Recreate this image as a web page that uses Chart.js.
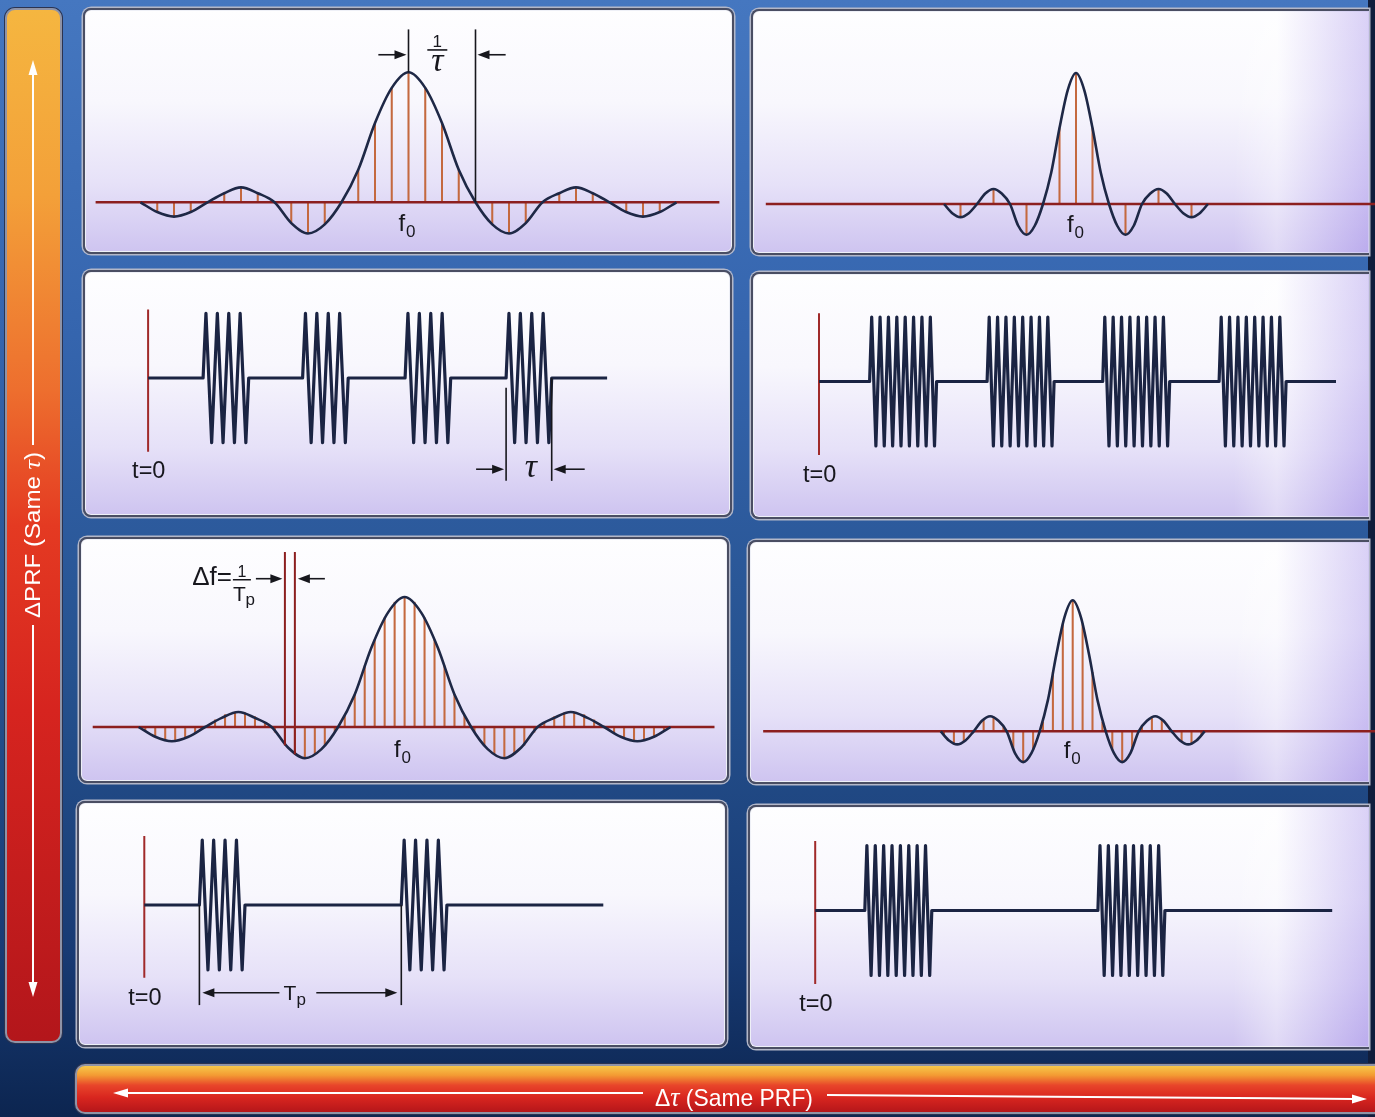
<!DOCTYPE html>
<html>
<head>
<meta charset="utf-8">
<title>Pulse trains and their line spectra</title>
<script src="https://cdn.jsdelivr.net/npm/chart.js@4.4.1/dist/chart.umd.min.js"></script>
<style>
  html, body { margin: 0; padding: 0; }
  body {
    width: 1375px; height: 1117px; position: relative; overflow: hidden;
    background: linear-gradient(180deg, #4577c0 0%, #3565ae 30%, #26528f 60%, #183b74 85%, #0c2550 100%);
    font-family: 'Liberation Sans', Arial, sans-serif;
  }
  .panel {
    position: absolute; box-sizing: border-box; z-index: 1;
    border: 2px solid #4a4e63; border-radius: 8px;
    box-shadow: 0 0 0 1.5px #b3b7c8, inset 0 0 0 1px #eef0f7;
    background: linear-gradient(180deg, #fefeff 0%, #f8f7fd 38%, #e6e1f8 72%, #cec4f0 100%);
  }
  .panel.right { border-right: none; border-radius: 8px 0 0 8px; }
  .panel.right::after {
    content: ''; position: absolute; left: 0; top: 0; right: 0; bottom: 0;
    background: linear-gradient(90deg, rgba(0,0,0,0) 0%, rgba(0,0,0,0) 78%, rgba(255,255,255,0.35) 85%, rgba(150,125,230,0.35) 100%);
  }
  .edge { position: absolute; left: 1368px; top: 0; width: 7px; height: 1117px; background: #101d3c; z-index: 0; }
  .bar-left {
    position: absolute; left: 5px; top: 8px; width: 57px; height: 1035px; box-sizing: border-box; z-index: 1;
    border: 2px solid #8f93a6; border-radius: 10px; box-shadow: 0 0 0 1px #2b3350;
    background: linear-gradient(180deg, #f5b640 0%, #f3a039 18%, #ed6e2e 37%, #e43a22 50%, #d6241f 68%, #b3161b 100%);
  }
  .bar-bottom {
    position: absolute; left: 75px; top: 1064px; width: 1310px; height: 50px; box-sizing: border-box; z-index: 1;
    border: 2px solid #8f93a6; border-radius: 10px 0 0 10px; box-shadow: 0 0 0 1px #2b3350;
    background: linear-gradient(180deg, #f7c84a 0%, #f39b33 20%, #e8452a 42%, #d9261f 68%, #b5161a 100%);
  }
  canvas { position: absolute; z-index: 2; }
  svg.deco { position: absolute; left: 0; top: 0; z-index: 3; pointer-events: none; }
</style>
</head>
<body>
<div class="edge"></div>
<div class="bar-left"></div>
<div class="bar-bottom"></div>
<div class="panel" style="left:83px;top:8px;width:651px;height:246px"></div>
<div class="panel" style="left:83px;top:270px;width:649px;height:247px"></div>
<div class="panel right" style="left:751px;top:9px;width:618px;height:246px"></div>
<div class="panel right" style="left:751px;top:272px;width:618px;height:247px"></div>
<div class="panel" style="left:79px;top:537px;width:650px;height:246px"></div>
<div class="panel" style="left:77px;top:801px;width:650px;height:246px"></div>
<div class="panel right" style="left:748px;top:540px;width:621px;height:244px"></div>
<div class="panel right" style="left:748px;top:805px;width:621px;height:244px"></div>

<svg class="deco" width="1375" height="1117">
  <g stroke="#fff" stroke-width="2" fill="#fff">
    <line x1="33" y1="72" x2="33" y2="445"/>
    <line x1="33" y1="625" x2="33" y2="985"/>
    <polygon points="33,60 28.5,75 37.5,75" stroke="none"/>
    <polygon points="33,997 28.5,982 37.5,982" stroke="none"/>
    <line x1="125" y1="1093" x2="643" y2="1093"/>
    <line x1="827" y1="1095" x2="1355" y2="1099"/>
    <polygon points="113,1093 128,1088.5 128,1097.5" stroke="none"/>
    <polygon points="1367,1099 1352,1094.5 1352,1103.5" stroke="none"/>
  </g>
  <text transform="translate(40,535) rotate(-90)" text-anchor="middle" fill="#fff" font-family="Liberation Sans" font-size="22" textLength="166" lengthAdjust="spacingAndGlyphs">ΔPRF (Same <tspan font-family="Liberation Serif" font-style="italic" font-size="24">τ</tspan>)</text>
  <text x="734" y="1106" text-anchor="middle" fill="#fff" font-family="Liberation Sans" font-size="24" textLength="158" lengthAdjust="spacingAndGlyphs">Δ<tspan font-family="Liberation Serif" font-style="italic" font-size="27">τ</tspan> (Same PRF)</text>
</svg>

<script>
// ---- values ----
// spectrum of the narrow pulse, frequency in units of 1/tau (top-left: lines at every point)
const freqA = [-4, -3.75, -3.5, -3.25, -3, -2.75, -2.5, -2.25, -2, -1.75, -1.5, -1.25, -1, -0.75, -0.5, -0.25, 0,
  0.25, 0.5, 0.75, 1, 1.25, 1.5, 1.75, 2, 2.25, 2.5, 2.75, 3, 3.25, 3.5, 3.75, 4];
const specA = [0, -0.075, -0.11, -0.075, 0, 0.07, 0.115, 0.07, 0, -0.16, -0.24, -0.17, 0, 0.25, 0.61, 0.88, 1,
  0.88, 0.61, 0.25, 0, -0.17, -0.24, -0.16, 0, 0.07, 0.115, 0.07, 0, -0.075, -0.11, -0.075, 0];

// spectrum of the wide pulse (right column)
const freqB = [-2, -1.875, -1.75, -1.625, -1.5, -1.375, -1.25, -1.125, -1, -0.875, -0.75, -0.625, -0.5, -0.375, -0.25, -0.125, 0,
  0.125, 0.25, 0.375, 0.5, 0.625, 0.75, 0.875, 1, 1.125, 1.25, 1.375, 1.5, 1.625, 1.75, 1.875, 2];
const specB = [0, -0.07, -0.1, -0.07, 0, 0.08, 0.115, 0.08, 0, -0.166, -0.235, -0.166, 0, 0.24, 0.58, 0.87, 1,
  0.87, 0.58, 0.24, 0, -0.166, -0.235, -0.166, 0, 0.08, 0.115, 0.08, 0, -0.07, -0.1, -0.07, 0];

// spectral lines, top-right
const linesB = [-1.75, -1.5, -1.25, -1, -0.75, -0.5, -0.25, 0, 0.25, 0.5, 0.75, 1, 1.25, 1.5, 1.75];
const linesBHeight = [-0.1, 0, 0.115, 0, -0.235, 0, 0.58, 1, 0.58, 0, -0.235, 0, 0.115, 0, -0.1];

// spectral lines, third row left (Tp doubled)
const linesC = [-3.9, -3.75, -3.6, -3.45, -3.3, -3.15, -3, -2.85, -2.7, -2.55, -2.4, -2.25, -2.1, -1.95, -1.8, -1.65,
  -1.5, -1.35, -1.2, -1.05, -0.9, -0.75, -0.6, -0.45, -0.3, -0.15, 0, 0.15, 0.3, 0.45, 0.6, 0.75, 0.9, 1.05, 1.2,
  1.35, 1.5, 1.65, 1.8, 1.95, 2.1, 2.25, 2.4, 2.55, 2.7, 2.85, 3, 3.15, 3.3, 3.45, 3.6, 3.75, 3.9];
const linesCHeight = [-0.03, -0.075, -0.105, -0.105, -0.085, -0.05, 0, 0.055, 0.095, 0.115, 0.11, 0.08, 0.035, -0.04,
  -0.14, -0.21, -0.24, -0.21, -0.14, -0.04, 0.09, 0.25, 0.47, 0.67, 0.84, 0.96, 1,
  0.96, 0.84, 0.67, 0.47, 0.25, 0.09, -0.04, -0.14, -0.21, -0.24, -0.21, -0.14, -0.04, 0.035, 0.08, 0.11, 0.115,
  0.095, 0.055, 0, -0.05, -0.085, -0.105, -0.105, -0.075, -0.03];

// spectral lines, third row right
const linesD = [-1.95, -1.8, -1.65, -1.5, -1.35, -1.2, -1.05, -0.9, -0.75, -0.6, -0.45, -0.3, -0.15, 0,
  0.15, 0.3, 0.45, 0.6, 0.75, 0.9, 1.05, 1.2, 1.35, 1.5, 1.65, 1.8, 1.95];
const linesDHeight = [-0.03, -0.095, -0.08, 0, 0.09, 0.11, 0.035, -0.14, -0.235, -0.14, 0.07, 0.45, 0.82, 1,
  0.82, 0.45, 0.07, -0.14, -0.235, -0.14, 0.035, 0.11, 0.09, 0, -0.08, -0.095, -0.03];

// pulse trains: burst start times (arbitrary time units from t=0)
const startsA = [5.5, 15.45, 25.7, 35.8];
const startsB = [5.06, 16.81, 28.37, 40.01];
const startsC = [5.51, 25.7];
const startsD = [4.96, 28.27];
const widthNarrow = 4.56, widthWide = 6.7;
const cyclesNarrow = 4, cyclesWide = 8;
const endNarrow = 45.9, endWide = 51.7;

// ---- where each panel sits on the page ----
const views = {
  a: {x: 83, y: 8, w: 650, h: 245, ox: 408.5, oy: 202.3, sx: 67, sy: 130, axis: [-4.67, 4.64]},
  b: {x: 83, y: 270, w: 648, h: 246, ox: 148.1, oy: 378, sx: 10, sy: 64.7, mark: [1.06, -1.14]},
  c: {x: 751, y: 9, w: 624, h: 245, ox: 1076, oy: 204, sx: 66, sy: 131, axis: [-4.7, 5]},
  d: {x: 751, y: 273, w: 624, h: 245, ox: 819, oy: 381.5, sx: 10, sy: 64.5, mark: [1.06, -1.14]},
  e: {x: 79, y: 538, w: 649, h: 244, ox: 404.6, oy: 727, sx: 66.5, sy: 130, axis: [-4.69, 4.66]},
  f: {x: 78, y: 801, w: 648, h: 245, ox: 144.3, oy: 905, sx: 10, sy: 65, mark: [1.06, -1.12]},
  g: {x: 748, y: 540, w: 627, h: 243, ox: 1072.7, oy: 731.3, sx: 66, sy: 131, axis: [-4.69, 5]},
  h: {x: 748, y: 805, w: 627, h: 243, ox: 815.2, oy: 910.5, sx: 10, sy: 65, mark: [1.07, -1.13]}
};

const INK = '#17171d', CURVE = '#1e2846', BASE = '#8c1f1f', STEM = '#c4693f', WAVE = '#1b2443', MARK = '#a02a2a';
const SANS = '"Liberation Sans", Arial, sans-serif';
const SERIF = '"Liberation Serif", "Times New Roman", serif';

function pts(xs, ys) {
  return xs.map((x, i) => ({x: x, y: ys[i]}));
}

function pulseTrace(starts, width, cycles, end) {
  const period = width / cycles;
  const out = [{x: 0, y: 0}];
  starts.forEach(s => {
    out.push({x: s, y: 0});
    for (let i = 0; i < cycles; i++) {
      out.push({x: s + (i + 0.25) * period, y: 1});
      out.push({x: s + (i + 0.75) * period, y: -1});
    }
    out.push({x: s + width, y: 0});
  });
  out.push({x: end, y: 0});
  return out;
}

function makeCanvas(v) {
  const c = document.createElement('canvas');
  c.width = v.w;
  c.height = v.h;
  c.style.left = v.x + 'px';
  c.style.top = v.y + 'px';
  document.body.appendChild(c);
  return c;
}

function options(v) {
  return {
    responsive: false, animation: false, devicePixelRatio: 1, events: [],
    layout: {padding: 0, autoPadding: false},
    plugins: {legend: {display: false}, tooltip: {enabled: false}},
    scales: {
      x: {type: 'linear', display: false, offset: false, bounds: 'data',
          min: (v.x - v.ox) / v.sx, max: (v.x + v.w - v.ox) / v.sx},
      y: {type: 'linear', display: false, bounds: 'data',
          min: (v.oy - v.y - v.h) / v.sy, max: (v.oy - v.y) / v.sy}
    }
  };
}

function notesPlugin(draw) {
  return {
    id: 'notes',
    afterDatasetsDraw(chart) {
      const ctx = chart.ctx;
      const X = val => chart.scales.x.getPixelForValue(val);
      const Y = val => chart.scales.y.getPixelForValue(val);
      ctx.save();
      ctx.strokeStyle = INK;
      ctx.fillStyle = INK;
      ctx.lineWidth = 1.6;
      draw(ctx, X, Y);
      ctx.restore();
    }
  };
}

// small drawing helpers for the labels
function txt(ctx, s, x, y, font, align) {
  ctx.font = font;
  ctx.textAlign = align || 'left';
  ctx.textBaseline = 'alphabetic';
  ctx.fillText(s, x, y);
}
function vline(ctx, x, y1, y2) {
  ctx.beginPath(); ctx.moveTo(x, y1); ctx.lineTo(x, y2); ctx.stroke();
}
function arrow(ctx, x1, y, x2) {
  const d = x2 > x1 ? 1 : -1;
  ctx.beginPath(); ctx.moveTo(x1, y); ctx.lineTo(x2 - d * 9, y); ctx.stroke();
  ctx.beginPath(); ctx.moveTo(x2, y); ctx.lineTo(x2 - d * 12, y - 4.5); ctx.lineTo(x2 - d * 12, y + 4.5);
  ctx.closePath(); ctx.fill();
}
function fZero(ctx, x, y) {
  txt(ctx, 'f', x, y, '24px ' + SANS);
  txt(ctx, '0', x + 7.5, y + 6, '17px ' + SANS);
}
function tZero(ctx, X, Y) {
  txt(ctx, 't=0', X(0) - 16, Y(0) + 100, '23.5px ' + SANS);
}

function spectrumChart(v, curveX, curveY, lineX, lineY, notes) {
  new Chart(makeCanvas(v), {
    type: 'line',
    data: {
      datasets: [
        {type: 'line', data: pts(curveX, curveY), borderColor: CURVE, borderWidth: 2.6, pointRadius: 0,
         cubicInterpolationMode: 'monotone', fill: false, order: 0},
        {type: 'line', data: [{x: v.axis[0], y: 0}, {x: v.axis[1], y: 0}], borderColor: BASE, borderWidth: 2.6,
         pointRadius: 0, fill: false, order: 1},
        {type: 'bar', data: pts(lineX, lineY), backgroundColor: STEM, barThickness: 1.4, grouped: false, order: 2}
      ]
    },
    options: options(v),
    plugins: [notesPlugin(notes)]
  });
}

function pulseChart(v, starts, width, cycles, end, notes) {
  new Chart(makeCanvas(v), {
    type: 'line',
    data: {
      datasets: [
        {data: pulseTrace(starts, width, cycles, end), borderColor: WAVE, borderWidth: 3.2, pointRadius: 0,
         tension: 0, borderJoinStyle: 'round', fill: false, order: 0},
        {data: [{x: 0, y: v.mark[0]}, {x: 0, y: v.mark[1]}], borderColor: MARK, borderWidth: 2, pointRadius: 0,
         fill: false, order: 1}
      ]
    },
    options: options(v),
    plugins: [notesPlugin(notes)]
  });
}

// row 1 left: spectrum, 1/tau marked
spectrumChart(views.a, freqA, specA, freqA, specA, (ctx, X, Y) => {
  vline(ctx, X(0), Y(1), Y(1.33));
  vline(ctx, X(1), Y(0), Y(1.33));
  arrow(ctx, X(-0.45), Y(1.135), X(0) - 2);
  arrow(ctx, X(1.45), Y(1.135), X(1) + 2);
  const cx = X(0.43);
  txt(ctx, '1', cx, Y(1.195), '17px ' + SANS, 'center');
  ctx.fillRect(cx - 10, Y(1.172) - 0.8, 20, 1.6);
  txt(ctx, 'τ', cx, Y(1.01), 'italic 34px ' + SERIF, 'center');
  fZero(ctx, X(0) - 10, Y(0) + 29);
});

// row 2 left: narrow pulses, tau marked on the last burst
pulseChart(views.b, startsA, widthNarrow, cyclesNarrow, endNarrow, (ctx, X, Y) => {
  const s = startsA[3], e = s + widthNarrow;
  vline(ctx, X(s), Y(-0.15), Y(-1.59));
  vline(ctx, X(e), Y(0), Y(-1.59));
  arrow(ctx, X(s - 3), Y(-1.41), X(s) - 2);
  arrow(ctx, X(e + 3.3), Y(-1.41), X(e) + 2);
  txt(ctx, 'τ', (X(s) + X(e)) / 2 + 2, Y(0) + 99, 'italic 34px ' + SERIF, 'center');
  tZero(ctx, X, Y);
});

// row 1 right: wider pulse, narrower spectrum
spectrumChart(views.c, freqB, specB, linesB, linesBHeight, (ctx, X, Y) => {
  fZero(ctx, X(0) - 9, Y(0) + 28);
});

// row 2 right
pulseChart(views.d, startsB, widthWide, cyclesWide, endWide, (ctx, X, Y) => {
  tZero(ctx, X, Y);
});

// row 3 left: Tp doubled, lines closer together
spectrumChart(views.e, freqA, specA, linesC, linesCHeight, (ctx, X, Y) => {
  const a = linesC[14], b = linesC[15];
  ctx.strokeStyle = BASE;
  ctx.lineWidth = 2;
  vline(ctx, X(a), Y(linesCHeight[14]), Y(1.346));
  vline(ctx, X(b), Y(linesCHeight[15]), Y(1.346));
  ctx.strokeStyle = INK;
  ctx.lineWidth = 1.6;
  const ay = Y(0) - 148.3;
  arrow(ctx, X(a) - 29, ay, X(a) - 2.5);
  arrow(ctx, X(b) + 30, ay, X(b) + 3);
  const fx = X(a) - 43;
  txt(ctx, 'Δf=', fx - 10, Y(0) - 142, '26px ' + SANS, 'right');
  txt(ctx, '1', fx, Y(0) - 150, '16px ' + SANS, 'center');
  ctx.fillRect(fx - 9, Y(0) - 148, 18, 1.5);
  txt(ctx, 'T', fx - 9, Y(0) - 126, '21px ' + SANS);
  txt(ctx, 'p', fx + 3.5, Y(0) - 122, '17px ' + SANS);
  fZero(ctx, X(0) - 10.5, Y(0) + 30);
});

// row 4 left: Tp marked
pulseChart(views.f, startsC, widthNarrow, cyclesNarrow, endNarrow, (ctx, X, Y) => {
  const a = startsC[0], b = startsC[1];
  vline(ctx, X(a), Y(0), Y(-1.54));
  vline(ctx, X(b), Y(0), Y(-1.54));
  const ay = Y(0) + 87.7;
  arrow(ctx, X(a) + 80, ay, X(a) + 3);
  arrow(ctx, X(b) - 85, ay, X(b) - 4);
  txt(ctx, 'T', X(a) + 84, Y(0) + 95, '21px ' + SANS);
  txt(ctx, 'p', X(a) + 97, Y(0) + 100, '17px ' + SANS);
  tZero(ctx, X, Y);
});

// row 3 right
spectrumChart(views.g, freqB, specB, linesD, linesDHeight, (ctx, X, Y) => {
  fZero(ctx, X(0) - 9, Y(0) + 26.5);
});

// row 4 right
pulseChart(views.h, startsD, widthWide, cyclesWide, endWide, (ctx, X, Y) => {
  tZero(ctx, X, Y);
});
</script>
</body>
</html>
